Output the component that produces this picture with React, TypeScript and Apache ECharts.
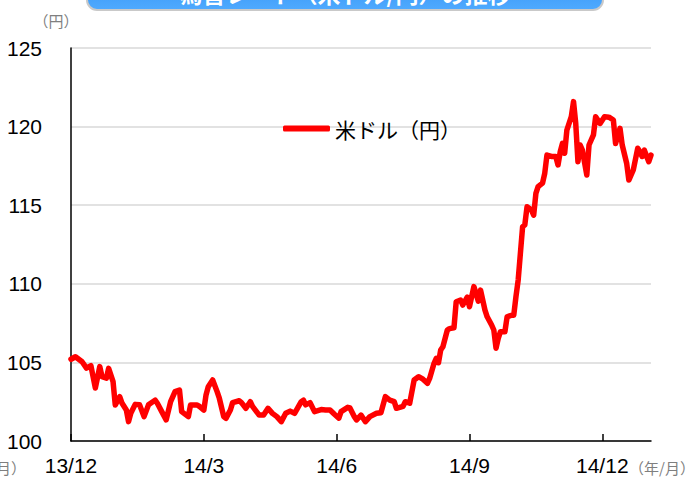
import React, { useEffect, useRef } from "react";
import * as echarts from "echarts";

// trading-day index since end of Dec 2013 (quarter ≈ 60 trading days)
const tradingDay = [
  0, 2, 5, 7, 9, 11, 13, 14, 16, 17,
  19, 20, 22, 23, 25, 26, 27, 29, 31, 33,
  35, 38, 39, 41, 43, 45, 47, 49, 50, 53,
  54, 57, 58, 60, 61, 62, 64, 66, 67, 69,
  70, 72, 73, 76, 77, 79, 81, 82, 85, 87,
  89, 91, 93, 95, 97, 99, 101, 104, 105, 106,
  108, 110, 113, 115, 117, 119, 121, 122, 125, 126,
  128, 129, 131, 133, 135, 138, 140, 142, 144, 146,
  147, 150, 151, 153, 155, 157, 159, 161, 162, 164,
  165, 166, 167, 168, 170, 171, 173, 174, 176, 177,
  179, 180, 181, 182, 184, 185, 187, 188, 190, 191,
  192, 193, 194, 196, 197, 199, 200, 201, 202, 204,
  205, 206, 208, 209, 210, 211, 213, 214, 215, 217,
  219, 220, 221, 222, 223, 224, 226, 227, 228, 229,
  230, 231, 233, 234, 236, 237, 239, 241, 243, 245,
  246, 248, 249, 251, 252, 254, 256, 257, 258, 259,
  261, 262,
];

const usdJpy = [
  105.2, 105.36, 105.04, 104.64, 104.79, 103.37, 104.73, 104.09, 104.0, 104.62,
  103.77, 102.29, 102.82, 102.42, 101.97, 101.23, 101.76, 102.33, 102.3, 101.55,
  102.3, 102.6, 102.4, 101.87, 101.34, 102.5, 103.14, 103.24, 101.87, 101.55,
  102.29, 102.29, 102.2, 101.97, 102.93, 103.45, 103.88, 103.14, 102.72, 101.55,
  101.44, 101.97, 102.44, 102.56, 102.44, 102.08, 102.5, 102.2, 101.65, 101.65,
  102.08, 101.76, 101.55, 101.23, 101.76, 101.9, 101.76, 102.5, 102.6, 102.3,
  102.44, 101.87, 102.0, 101.97, 101.97, 101.7, 101.45, 101.87, 102.14, 102.1,
  101.55, 101.34, 101.65, 101.23, 101.55, 101.76, 101.8, 102.82, 102.6, 102.5,
  102.08, 102.2, 102.5, 102.4, 103.88, 104.09, 103.93, 103.67, 103.98, 104.94,
  105.26, 104.98, 105.79, 106.0, 107.06, 107.15, 107.2, 108.86, 108.97, 108.65,
  109.15, 108.54, 109.18, 109.82, 108.9, 109.6, 108.33, 107.9, 107.38, 107.06,
  105.9, 106.53, 106.95, 106.95, 107.9, 108.0, 108.0, 109.18, 110.24, 113.63,
  113.75, 114.9, 114.7, 114.37, 115.75, 116.18, 116.4, 117.03, 118.19, 118.1,
  118.1, 117.56, 118.4, 118.93, 118.3, 119.78, 120.63, 121.59, 120.21, 117.77,
  118.83, 118.5, 116.92, 118.83, 119.47, 120.63, 120.2, 120.63, 120.6, 120.42,
  118.93, 119.89, 118.83, 117.67, 116.6, 117.24, 118.62, 118.4, 118.1, 118.5,
  117.77, 118.19,
];

const tickDays = [0, 60, 120, 180, 240];
const tickLabels = ["13/12", "14/3", "14/6", "14/9", "14/12"];

const seriesName = "米ドル（円）";
const titleText = "為替レート（米ドル/円）の推移";

export default function App() {
  const ref = useRef<HTMLDivElement>(null);

  useEffect(() => {
    document.body.style.margin = "0";
    if (!ref.current) return;
    const chart = echarts.init(ref.current, undefined, { renderer: "svg" });
    const data = tradingDay.map((d, i) => [d, usdJpy[i]]);
    const numFont = "'Liberation Sans', Arial, sans-serif";
    const cjkFont = "'Noto Sans CJK JP', sans-serif";

    chart.setOption({
      animation: false,
      backgroundColor: "#ffffff",
      grid: { left: 71, right: 44, top: 48, bottom: 38, containLabel: false },
      legend: {
        data: [seriesName],
        left: 278,
        top: 113,
        icon: "roundRect",
        itemWidth: 47,
        itemHeight: 6,
        textStyle: { fontSize: 21, color: "#000", fontFamily: cjkFont },
      },
      xAxis: {
        type: "value",
        min: 0,
        max: 262,
        interval: 60,
        axisLine: { show: true, lineStyle: { color: "#000", width: 1.5 } },
        axisTick: { show: true, inside: true, length: 7, lineStyle: { color: "#000", width: 1.5 } },
        splitLine: { show: false },
        axisLabel: {
          margin: 14,
          fontSize: 21,
          color: "#000",
          fontFamily: numFont,
          showMaxLabel: false,
          formatter: (v: number) => {
            const idx = tickDays.indexOf(Math.round(v));
            return idx >= 0 ? tickLabels[idx] : "";
          },
        },
      },
      yAxis: {
        type: "value",
        min: 100,
        max: 125,
        interval: 5,
        axisLine: { show: true, lineStyle: { color: "#000", width: 1.5 } },
        axisTick: { show: false },
        splitLine: { show: true, lineStyle: { color: "#d9d9d9", width: 1.5 } },
        axisLabel: { margin: 29, fontSize: 21, color: "#000", fontFamily: numFont },
      },
      series: [
        {
          name: seriesName,
          type: "line",
          data,
          symbol: "none",
          lineStyle: { color: "#ff0000", width: 5.5, join: "round", cap: "round" },
          itemStyle: { color: "#ff0000" },
        },
      ],
      graphic: [
        {
          type: "rect",
          shape: { x: 87, y: -30, width: 516, height: 40, r: 10 },
          style: {
            fill: new echarts.graphic.LinearGradient(0, 0, 0, 1, [
              { offset: 0, color: "#2f8ff0" },
              { offset: 1, color: "#4faaff" },
            ]),
            stroke: "#c9c9c9",
            lineWidth: 2,
          },
          z: 10,
        },
        {
          type: "text",
          x: 345,
          y: -7,
          style: {
            text: titleText,
            fill: "#ffffff",
            font: "bold 23px 'Noto Sans CJK JP', sans-serif",
            textAlign: "center",
            textVerticalAlign: "middle",
          },
          z: 11,
        },
        {
          type: "text",
          x: 56,
          y: 20,
          style: {
            text: "（円）",
            fill: "#7f7f7f",
            font: "15px 'Noto Sans CJK JP', sans-serif",
            textAlign: "center",
            textVerticalAlign: "middle",
          },
        },
        {
          type: "text",
          x: 695,
          y: 467,
          style: {
            text: "（年/月）",
            fill: "#7f7f7f",
            font: "15px 'Noto Sans CJK JP', sans-serif",
            textAlign: "right",
            textVerticalAlign: "middle",
          },
        },
        {
          type: "text",
          x: 26,
          y: 467,
          style: {
            text: "（年/月）",
            fill: "#7f7f7f",
            font: "15px 'Noto Sans CJK JP', sans-serif",
            textAlign: "right",
            textVerticalAlign: "middle",
          },
        },
      ],
    });

    return () => chart.dispose();
  }, []);

  return <div ref={ref} style={{ width: 695, height: 479 }} />;
}
